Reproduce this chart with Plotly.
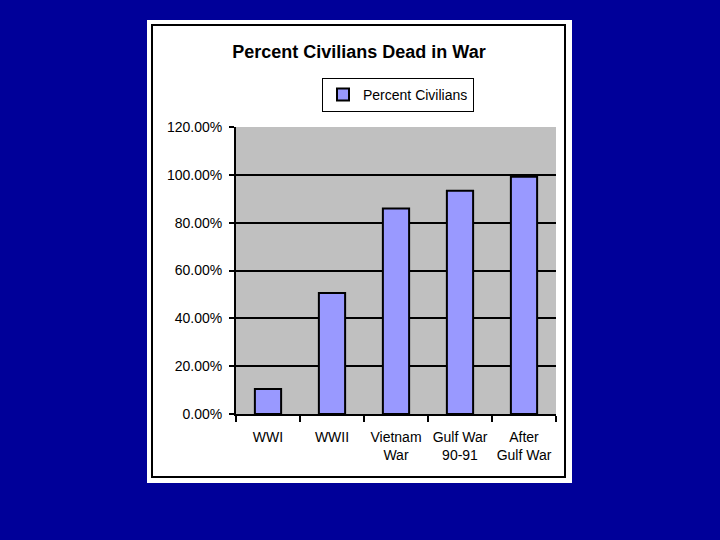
import plotly.graph_objects as go

categories = ["WWI", "WWII", "Vietnam<br>War", "Gulf War<br>90-91", "After<br>Gulf War"]
percent_civilians = [0.105, 0.506, 0.859, 0.933, 0.992]
series_name = "Percent Civilians"
title_text = "Percent Civilians Dead in War"

# plot area in pixels: x 236..556, y 127..414
L, R, T, B = 236, 556, 127, 414
W, H = R - L, B - T

def px(x):
    return (x - L) / W

def py(y):
    return (B - y) / H

fig = go.Figure()
fig.add_trace(go.Bar(
    x=categories, y=percent_civilians, name=series_name,
    marker=dict(color="#9999FF", line=dict(color="black", width=2)),
    width=0.41, showlegend=True,
))

shapes = [
    dict(type="rect", xref="paper", yref="paper", layer="below",
         x0=px(147), x1=px(572), y0=py(483), y1=py(20),
         fillcolor="white", line=dict(width=0)),
    dict(type="rect", xref="paper", yref="paper", layer="below",
         x0=px(152), x1=px(565), y0=py(477), y1=py(25),
         fillcolor="white", line=dict(color="black", width=2)),
    dict(type="rect", xref="paper", yref="paper", layer="below",
         x0=0, x1=1, y0=0, y1=1,
         fillcolor="#C0C0C0", line=dict(width=0)),
]

fig.update_layout(
    width=720, height=540,
    margin=dict(l=L, r=720 - R, t=T, b=540 - B),
    paper_bgcolor="#000099",
    plot_bgcolor="rgba(0,0,0,0)",
    font=dict(family="Liberation Sans, Arial", color="black", size=14),
    title=dict(text="<b>" + title_text + "</b>", xref="paper", x=px(359), xanchor="center",
               yref="container", y=1 - 52 / 540, yanchor="middle",
               font=dict(size=18, color="black", family="Liberation Sans, Arial")),
    legend=dict(x=px(322), y=py(78), xanchor="left", yanchor="top",
                bgcolor="white", bordercolor="black", borderwidth=1,
                font=dict(size=14, color="black")),
    shapes=shapes,
    bargap=0.58,
)
fig.update_yaxes(range=[0, 1.2], dtick=0.2, tickformat=".2%",
                 showgrid=True, gridcolor="black", gridwidth=1.5,
                 showline=True, linecolor="black", linewidth=2,
                 ticks="outside", ticklen=5, tickcolor="black", tickwidth=2,
                 zeroline=False, tickfont=dict(size=14, color="black"),
                 ticklabelstandoff=4)
fig.update_xaxes(showgrid=False, showline=True, linecolor="black", linewidth=2,
                 ticks="outside", tickson="boundaries", ticklen=6, tickcolor="black", tickwidth=2,
                 tickfont=dict(size=14, color="black"), tickangle=0,
                 ticklabelstandoff=9)

fig.write_html("out.html", config={"displayModeBar": False},
               post_script="document.body.style.margin='0';document.body.style.overflow='hidden';")
